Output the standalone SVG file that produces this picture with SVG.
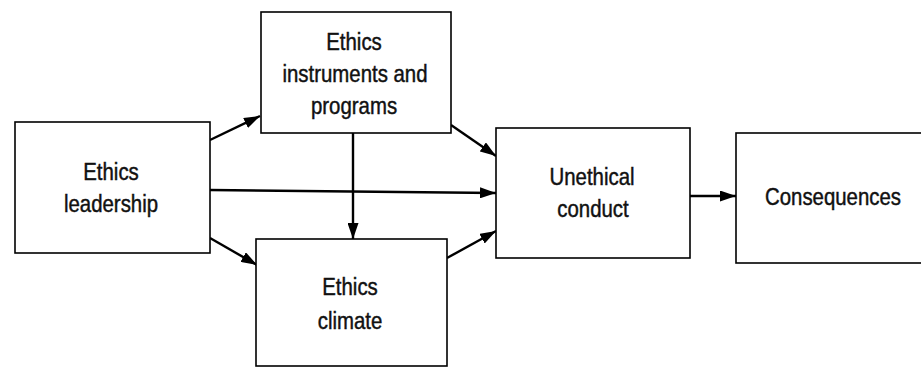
<svg xmlns="http://www.w3.org/2000/svg" width="921" height="368" viewBox="0 0 921 368">
  <defs>
    <marker id="arrow" viewBox="0 0 16 11" refX="16" refY="5.5" markerWidth="16" markerHeight="11" markerUnits="userSpaceOnUse" orient="auto">
      <path d="M0,0 L16,5.5 L0,11 Z" fill="#000"/>
    </marker>
    <style>
      .box { fill: #fff; stroke: #000; stroke-width: 1.6; }
      .lbl { font-family: "Liberation Sans", Arial, sans-serif; font-size: 24px; fill: #111; stroke: #111; stroke-width: 0.45; text-anchor: middle; }
      .edge { stroke: #000; stroke-width: 2.4; fill: none; marker-end: url(#arrow); }
    </style>
  </defs>
  <rect width="921" height="368" fill="#fff"/>

  <g id="connectors">
    <line class="edge" x1="210" y1="140" x2="260" y2="116"/>
    <line class="edge" x1="210" y1="238" x2="257" y2="265"/>
    <line class="edge" x1="210" y1="190" x2="496" y2="193"/>
    <line class="edge" x1="353" y1="133" x2="353" y2="239"/>
    <line class="edge" x1="451" y1="125" x2="496" y2="156"/>
    <line class="edge" x1="447" y1="258" x2="496" y2="231"/>
    <line class="edge" x1="690" y1="196" x2="736" y2="196"/>
  </g>

  <g id="ethics-leadership">
    <rect class="box" x="15" y="122" width="195" height="131"/>
    <text class="lbl" transform="translate(111 180) scale(0.85 1)">Ethics</text>
    <text class="lbl" transform="translate(111 212) scale(0.85 1)">leadership</text>
  </g>

  <g id="ethics-instruments">
    <rect class="box" x="261" y="12" width="190" height="121"/>
    <text class="lbl" transform="translate(354 50) scale(0.85 1)">Ethics</text>
    <text class="lbl" transform="translate(355 82) scale(0.85 1)">instruments and</text>
    <text class="lbl" transform="translate(354 114) scale(0.85 1)">programs</text>
  </g>

  <g id="ethics-climate">
    <rect class="box" x="256" y="239" width="191" height="127"/>
    <text class="lbl" transform="translate(350 295) scale(0.85 1)">Ethics</text>
    <text class="lbl" transform="translate(350 329) scale(0.85 1)">climate</text>
  </g>

  <g id="unethical-conduct">
    <rect class="box" x="496" y="128" width="194" height="130"/>
    <text class="lbl" transform="translate(592 185) scale(0.85 1)">Unethical</text>
    <text class="lbl" transform="translate(593 217) scale(0.85 1)">conduct</text>
  </g>

  <g id="consequences">
    <rect class="box" x="736" y="133" width="200" height="130"/>
    <text class="lbl" transform="translate(833 205) scale(0.85 1)">Consequences</text>
  </g>
</svg>
